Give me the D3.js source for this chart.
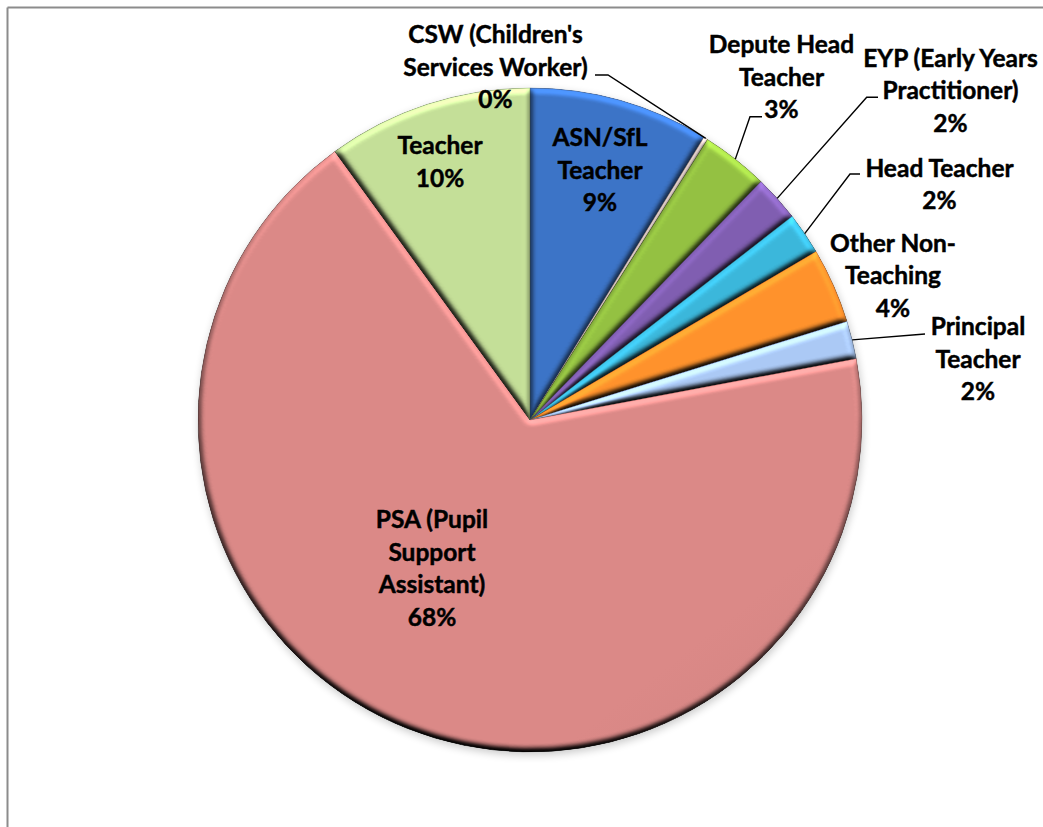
<!DOCTYPE html>
<html>
<head>
<meta charset="utf-8">
<script src="https://cdn.jsdelivr.net/npm/d3@7"></script>
<style>
  html, body { margin: 0; padding: 0; background: #ffffff; }
  svg { display: block; }
  text { font-family: Lato, "Open Sans", "DejaVu Sans", sans-serif; font-weight: 700; }
</style>
</head>
<body>
<svg id="chart" width="1043" height="827"></svg>
<script>
// ---- data ----
const categories = [
  "ASN/SfL Teacher",
  "CSW (Children's Services Worker)",
  "Depute Head Teacher",
  "EYP (Early Years Practitioner)",
  "Head Teacher",
  "Other Non-Teaching",
  "Principal Teacher",
  "PSA (Pupil Support Assistant)",
  "Teacher"
];
const counts = [43, 1, 16, 11, 10, 18, 9, 333, 49];
const labelLines = [
  ["ASN/SfL", "Teacher"],
  ["CSW (Children's", "Services Worker)"],
  ["Depute Head", "Teacher"],
  ["EYP (Early Years", "Practitioner)"],
  ["Head Teacher"],
  ["Other Non-", "Teaching"],
  ["Principal", "Teacher"],
  ["PSA (Pupil", "Support", "Assistant)"],
  ["Teacher"]
];
const sliceColors = ["#3669B4", "#C4B4B0", "#86AF3C", "#7455A0", "#35A6C6", "#EE8428", "#9BB6DE", "#C67C7A", "#B1CA8A"];

// ---- layout ----
const cx = 530, cy = 420, R = 332;
const lineH = 32.5;
const labelPos = [[600, 146], [495.5, 43.3], [781.5, 53.3], [950.5, 66.7], [939.5, 176.7], [893, 251.7], [978, 335], [432, 528], [440, 154]];
const leaderFrom = [null, [[595, 75], [608, 75]], [[762, 116.7], [750, 116.7]], [[878, 97.3], [866.7, 97.3]], [[860, 174], [850, 174]], null, [[925, 334]], null, null];

const svg = d3.select("#chart");
const defs = svg.append("defs");

// bevel-like lighting filter
const elev = 50;
const f = defs.append("filter").attr("id", "bevel")
  .attr("x", "-5%").attr("y", "-5%").attr("width", "110%").attr("height", "110%")
  .attr("color-interpolation-filters", "sRGB");
f.append("feGaussianBlur").attr("in", "SourceAlpha").attr("stdDeviation", 3).attr("result", "blur");
const dl = f.append("feDiffuseLighting").attr("in", "blur").attr("surfaceScale", 5)
  .attr("diffuseConstant", 1).attr("lighting-color", "#ffffff").attr("result", "diff");
dl.append("feDistantLight").attr("azimuth", 280).attr("elevation", elev);
f.append("feComposite").attr("in", "SourceGraphic").attr("in2", "diff")
  .attr("operator", "arithmetic").attr("k1", 1 / Math.sin(elev * Math.PI / 180)).attr("k2", 0).attr("k3", 0).attr("k4", 0)
  .attr("result", "lit");
f.append("feComposite").attr("in", "lit").attr("in2", "SourceAlpha").attr("operator", "in");

// soft shadow for the pie
const sh = defs.append("filter").attr("id", "shadow").attr("x", "-10%").attr("y", "-10%").attr("width", "120%").attr("height", "120%");
sh.append("feGaussianBlur").attr("in", "SourceAlpha").attr("stdDeviation", 4).attr("result", "b");
sh.append("feOffset").attr("in", "b").attr("dx", 1).attr("dy", 3).attr("result", "o");
sh.append("feComponentTransfer").attr("in", "o").append("feFuncA").attr("type", "linear").attr("slope", 0.22);

// per-slice gradients
sliceColors.forEach((c, i) => {
  const g = defs.append("linearGradient").attr("id", "grad" + i)
    .attr("gradientUnits", "userSpaceOnUse")
    .attr("x1", cx - R * 0.7).attr("y1", cy - R * 0.9).attr("x2", cx + R * 0.7).attr("y2", cy + R * 0.9);
  g.append("stop").attr("offset", 0).attr("stop-color", d3.color(c).brighter(0.28));
  g.append("stop").attr("offset", 0.45).attr("stop-color", c);
  g.append("stop").attr("offset", 1).attr("stop-color", d3.color(c).darker(0.3));
});

// frame lines
svg.append("line").attr("x1", 7.5).attr("y1", 7.5).attr("x2", 1043).attr("y2", 7.5).attr("stroke", "#8c8c8c").attr("stroke-width", 2);
svg.append("line").attr("x1", 7.5).attr("y1", 7.5).attr("x2", 7.5).attr("y2", 827).attr("stroke", "#8c8c8c").attr("stroke-width", 2);

const pie = d3.pie().sort(null).value(d => d.v);
const data = categories.map((c, i) => ({ c, v: counts[i], i }));
const arcs = pie(data);
const total = d3.sum(counts);
const arc = d3.arc().innerRadius(0).outerRadius(R);
const edgeArc = d3.arc().innerRadius(R).outerRadius(R);

const g = svg.append("g").attr("transform", `translate(${cx},${cy})`);
g.append("circle").attr("r", R).attr("fill", "#888").attr("filter", "url(#shadow)");

g.selectAll("path.slice").data(arcs).join("path")
  .attr("class", "slice")
  .attr("d", arc)
  .attr("fill", d => `url(#grad${d.data.i})`)
  .attr("stroke", d => d3.color(sliceColors[d.data.i]).darker(0.8))
  .attr("stroke-width", 0.7)
  .attr("filter", "url(#bevel)");

// leader lines
arcs.forEach((d, i) => {
  const from = leaderFrom[i];
  if (!from) return;
  const e = edgeArc.centroid(d);
  const pts = from.concat([[cx + e[0], cy + e[1]]]);
  svg.append("path").attr("d", d3.line()(pts))
    .attr("fill", "none").attr("stroke", "#000").attr("stroke-width", 1.4);
});

// labels
const pct = d3.format(".0%");
arcs.forEach((d, i) => {
  const lines = labelLines[i].concat([pct(d.data.v / total)]);
  const t = svg.append("text").attr("text-anchor", "middle").attr("font-size", 24.5)
    .attr("fill", "#000").attr("stroke", "#000").attr("stroke-width", 0.45);
  lines.forEach((s, k) => {
    t.append("tspan").attr("x", labelPos[i][0]).attr("y", labelPos[i][1] + k * lineH).text(s);
  });
});
</script>
</body>
</html>
